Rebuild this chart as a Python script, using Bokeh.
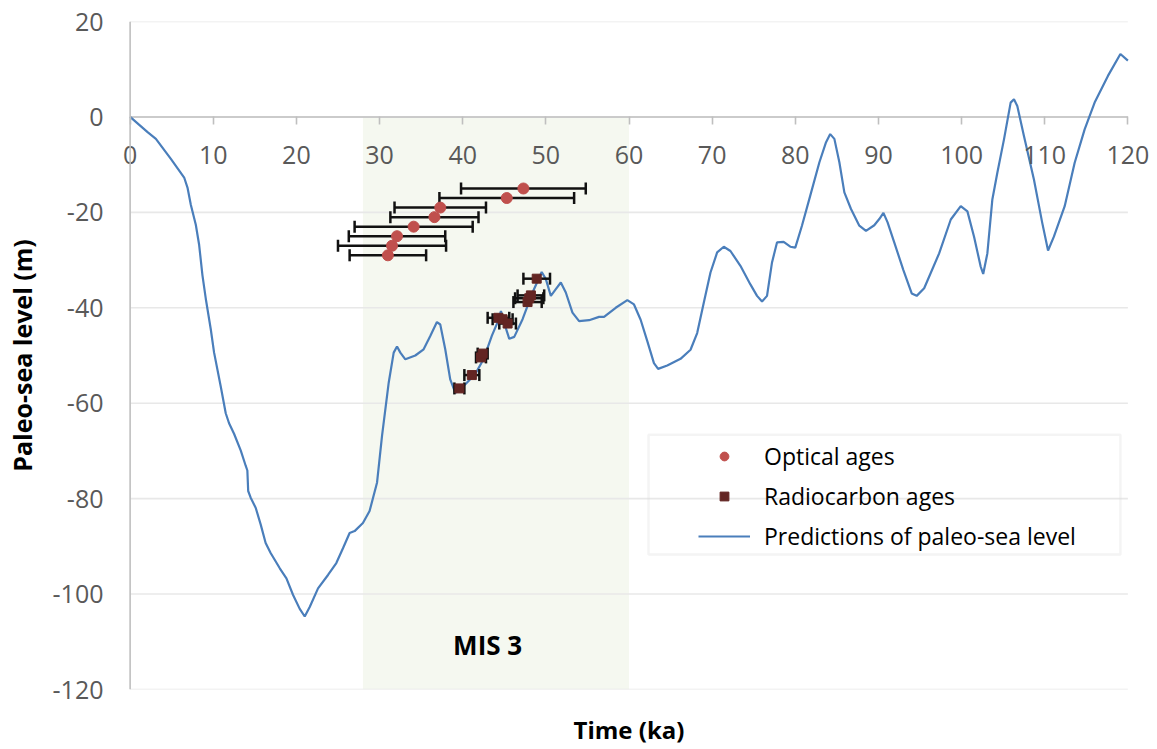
from bokeh.plotting import figure
from bokeh.models import (Range1d, FixedTicker, Legend, LegendItem, BoxAnnotation, Label,
                          LinearAxis, Span)
from bokeh.embed import file_html
from bokeh.resources import INLINE
import math

# ---------------- data ----------------
time_ka = [0, 2.1, 3.1, 4.9, 6.5, 6.9, 7.3, 7.9, 8.3, 8.7, 9.1, 9.7, 10.1, 10.9, 11.5, 11.9,
           12.5, 13.3, 13.9, 14.1, 14.2, 14.5, 15.1, 15.7, 16.3, 16.9, 18.0, 18.8, 19.6, 20.4,
           21.0, 21.6, 22.6, 23.8, 24.8, 25.6, 26.4, 27.0, 28.0, 28.8, 29.7, 30.3, 31.1, 31.7,
           32.1, 32.5, 33.1, 34.3, 35.3, 36.1, 36.9, 37.3, 37.9, 38.5, 39.1, 39.5, 40.5, 41.5,
           42.5, 43.5, 44.2, 44.6, 45.1, 45.6, 46.2, 47.2, 48.4, 49.5, 50.0, 50.6, 51.2, 51.8,
           52.4, 53.2, 54.0, 55.2, 56.4, 57.0, 58.4, 59.8, 60.6, 61.4, 62.2, 63.0, 63.5, 64.6,
           66.2, 67.4, 68.2, 69.0, 69.8, 70.6, 71.4, 72.2, 73.4, 74.6, 75.4, 76.0, 76.6, 77.2,
           77.8, 78.6, 79.4, 80.0, 80.8, 81.8, 82.9, 83.7, 84.2, 84.7, 85.3, 85.9, 86.7, 87.7,
           88.5, 89.5, 90.1, 90.6, 91.1, 91.9, 93.0, 94.0, 94.6, 95.5, 97.3, 98.7, 99.9, 100.7,
           101.5, 102.3, 102.6, 103.1, 103.7, 104.3, 105.1, 105.9, 106.3, 106.7, 107.5, 108.7,
           109.7, 110.4, 111.1, 112.4, 113.6, 114.8, 116.0, 117.6, 119.1, 120.0]
sea_level_m = [0, -3.2, -4.6, -8.8, -12.7, -14.8, -18.4, -22.6, -26.8, -33.2, -38.1, -44.5, -49.4,
               -56.5, -62.1, -64.2, -66.4, -69.9, -73.1, -74.1, -78.4, -79.8, -81.9, -85.4, -89.3,
               -91.4, -94.6, -96.7, -100.2, -103.1, -104.7, -102.7, -98.8, -96.0, -93.5, -90.4,
               -87.2, -86.8, -85.1, -82.6, -76.6, -66.8, -55.7, -49.4, -48.1, -49.4, -50.8, -50.0,
               -48.7, -45.9, -43.0, -43.5, -48.7, -55.0, -57.8, -57.4, -55.7, -53.9, -50.8, -45.9,
               -43.0, -40.7, -43.8, -46.5, -46.1, -42.4, -36.8, -32.5, -34.0, -37.5, -36.1, -34.7,
               -36.8, -41.0, -42.8, -42.6, -41.9, -41.9, -40.0, -38.4, -39.3, -42.5, -47.0, -51.6,
               -52.8, -52.1, -50.7, -48.8, -45.3, -38.9, -32.6, -28.4, -27.2, -28.1, -31.2, -35.1,
               -37.5, -38.7, -37.5, -30.5, -26.3, -26.2, -27.2, -27.4, -22.8, -16.5, -9.5, -5.3,
               -3.6, -4.6, -9.5, -15.8, -19.3, -22.8, -23.9, -22.7, -21.4, -20.1, -22.1, -26.3,
               -32.1, -37.0, -37.5, -35.9, -28.6, -21.5, -18.7, -19.8, -25.1, -31.4, -32.9, -28.6,
               -17.3, -11.7, -4.7, 3.0, 3.7, 2.3, -4.0, -13.1, -22.2, -28.0, -25.1, -18.7, -9.6,
               -2.6, 3.0, 8.6, 13.2, 11.8]

optical_age = [47.3, 45.3, 37.3, 36.6, 34.1, 32.1, 31.5, 31.0]
optical_level = [-15.0, -17.0, -19.0, -21.0, -23.0, -25.0, -27.0, -29.0]
optical_err = [7.5, 8.1, 5.5, 5.3, 7.1, 5.8, 6.5, 4.6]

radiocarbon_age = [39.6, 41.1, 42.2, 42.4, 44.3, 44.8, 45.4, 47.8, 48.0, 48.2, 48.9]
radiocarbon_level = [-56.9, -54.1, -50.4, -49.6, -42.1, -42.4, -43.3, -38.8, -38.0, -37.4, -33.9]
radiocarbon_err = [0.6, 0.9, 0.6, 0.6, 1.3, 1.2, 1.0, 1.7, 1.7, 1.6, 1.6]

mis3_start, mis3_end = 28, 60
x_ticks = list(range(0, 121, 10))
x_tick_labels = [str(t) for t in x_ticks]
y_ticks = list(range(-120, 21, 20))
y_tick_labels = [str(t) for t in y_ticks]

FONT = "Open Sans"
TICK_COLOR = "#595959"
AXIS_COLOR = "#bfbfbf"

# the frame is a little wider than 0..120 so that the end tick labels are not clipped
p = figure(width=1149, height=748, output_backend="svg", toolbar_location=None,
           x_range=Range1d(-2.6, 122.6), y_range=Range1d(-120, 20),
           min_border_left=108, min_border_right=0, min_border_top=21, min_border_bottom=59)
p.outline_line_color = None
p.background_fill_color = "white"
p.xgrid.visible = False
p.ygrid.visible = False

# MIS 3 shading
mis = p.quad(left=[mis3_start], right=[mis3_end], bottom=[y_ticks[0]], top=[0],
             fill_color="#f5f8f0", line_color=None)
mis.level = "image"

# horizontal gridlines (from x = 0 to 120)
p.segment(x0=x_ticks[0], x1=x_ticks[-1], y0=y_ticks, y1=y_ticks,
          line_color="#e8e8e8", line_width=1.6)
# horizontal axis line at y = 0
p.segment(x0=[x_ticks[0]], x1=[x_ticks[-1]], y0=[0], y1=[0],
          line_color=AXIS_COLOR, line_width=1.6)
# vertical axis line at x = 0
p.add_layout(Span(location=0, dimension="height", line_color=AXIS_COLOR, line_width=1.6))

# x axis: ticks and labels at y = 0
xa = p.xaxis[0]
xa.ticker = FixedTicker(ticks=x_ticks)
xa.major_label_overrides = {t: s for t, s in zip(x_ticks, x_tick_labels)}
xa.fixed_location = 0
xa.axis_line_color = None
xa.major_tick_line_color = AXIS_COLOR
xa.major_tick_line_width = 1.6
xa.major_tick_out = 8
xa.major_tick_in = 0
xa.minor_tick_line_color = None
xa.major_label_standoff = 21
xa.major_label_text_font = FONT
xa.major_label_text_font_size = "25px"
xa.major_label_text_color = TICK_COLOR

# axis carrying only the x title, at the bottom
title_axis = LinearAxis(ticker=FixedTicker(ticks=[]), axis_label="Time (ka)",
                        axis_line_color=None, major_tick_line_color=None,
                        minor_tick_line_color=None, major_tick_out=0, major_tick_in=0,
                        major_label_text_font_size="1px", axis_label_standoff=23,
                        axis_label_text_font=FONT, axis_label_text_font_size="24px",
                        axis_label_text_font_style="bold", axis_label_text_color="black")
p.add_layout(title_axis, "below")

ya = p.yaxis[0]
ya.ticker = FixedTicker(ticks=y_ticks)
ya.major_label_overrides = {t: s for t, s in zip(y_ticks, y_tick_labels)}
ya.axis_line_color = None
ya.major_tick_line_color = None
ya.minor_tick_line_color = None
ya.major_tick_out = 0
ya.major_tick_in = 0
ya.major_label_standoff = 5
ya.major_label_text_font = FONT
ya.major_label_text_font_size = "25px"
ya.major_label_text_color = TICK_COLOR
ya.axis_label = "Paleo-sea level (m)"
ya.axis_label_text_font = FONT
ya.axis_label_text_font_size = "25px"
ya.axis_label_text_font_style = "bold"
ya.axis_label_text_color = "black"
ya.axis_label_standoff = 11

# sea level curve
line_r = p.line(time_ka, sea_level_m, line_color="#4a7ebb", line_width=2.2)

# error bars
def error_bars(ages, levels, errs):
    lo = [a - e for a, e in zip(ages, errs)]
    hi = [a + e for a, e in zip(ages, errs)]
    p.segment(x0=lo, x1=hi, y0=levels, y1=levels, line_color="#111111", line_width=2.5)
    p.scatter(x=lo + hi, y=levels + levels, marker="dash", angle=math.pi / 2, size=12,
              line_color="#111111", line_width=2.5)

error_bars(optical_age, optical_level, optical_err)
error_bars(radiocarbon_age, radiocarbon_level, radiocarbon_err)

opt_r = p.scatter(optical_age, optical_level, marker="circle", size=11,
                  fill_color="#c0504d", line_color="#c0504d")
rc_r = p.scatter(radiocarbon_age, radiocarbon_level, marker="square", size=9,
                 fill_color="#632523", line_color="#632523")

# MIS 3 label
p.add_layout(Label(x=43.0, y=-110.6, text="MIS 3", text_font=FONT, text_font_size="26px",
                   text_font_style="bold", text_align="center", text_baseline="middle",
                   text_color="black"))

# legend frame
p.add_layout(BoxAnnotation(left=62.35, right=119.1, top=-66.6, bottom=-91.7,
                           fill_alpha=0, line_color="#d9d9d9", line_width=2.5))

legend = Legend(items=[LegendItem(label="Optical ages", renderers=[opt_r]),
                       LegendItem(label="Radiocarbon ages", renderers=[rc_r]),
                       LegendItem(label="Predictions of paleo-sea level", renderers=[line_r])],
                location=(590, 137), glyph_width=52, glyph_height=22, label_height=22,
                label_standoff=14, spacing=8, padding=0, margin=0,
                border_line_alpha=0, background_fill_alpha=0,
                label_text_font=FONT, label_text_font_size="23px", label_text_color="black")
p.add_layout(legend)

open("out.html", "w").write(file_html(p, INLINE))
